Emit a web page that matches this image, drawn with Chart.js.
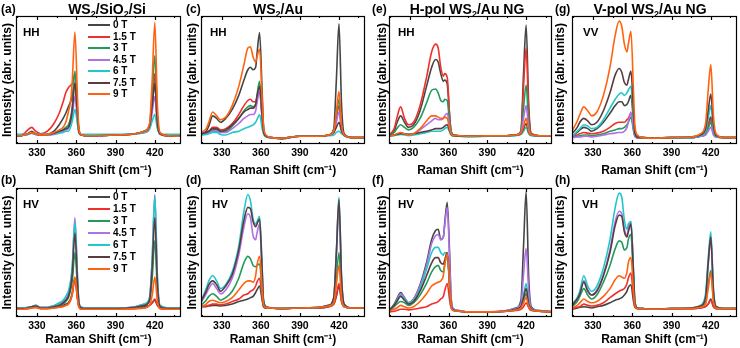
<!DOCTYPE html>
<html>
<head>
<meta charset="utf-8">
<script src="https://cdn.jsdelivr.net/npm/chart.js@4.4.0/dist/chart.umd.min.js"></script>
<style>
  body { margin: 0; background: #fff; }
  #fig { position: relative; width: 740px; height: 348px; overflow: hidden;
         font-family: "Liberation Sans", Arial, sans-serif; font-weight: bold; color: #000; }
  #fig canvas { position: absolute; }
  .lbl { position: absolute; white-space: nowrap; line-height: 1; z-index: 2; }
  .ttl { font-size: 14px; transform: translateX(-50%); }
  .ttl sub { font-size: 9px; vertical-align: -3px; line-height: 0; }
  .pl { font-size: 12px; }
  .pol { font-size: 11.5px; }
  .leg { font-size: 10px; }
  .legline { position: absolute; width: 22px; height: 2px; z-index: 2; }
</style>
</head>
<body>
<div id="fig"></div>
<script>
// x grid (cm^-1) shared by every spectrum
const ramanShift = [314, 318, 320, 323, 326, 329, 333, 338, 343, 347, 350, 352, 354, 356, 357, 359,
                    361, 362, 364, 368, 375, 390, 405, 412, 416, 418, 420, 422, 424, 430, 440];
const xTickLabels = [330, 360, 390, 420];
const xMinorTicks = [315, 345, 375, 405, 435];

const fields = ['0 T', '1.5 T', '3 T', '4.5 T', '6 T', '7.5 T', '9 T'];
const fieldColors = ['#454545', '#f0302a', '#239a5a', '#b070e6', '#22c7c9', '#5c3b40', '#ff6310'];

// (a) WS2/SiO2/Si, HH
const siHH = [
  [0.065,0.065,0.07,0.08,0.10,0.08,0.07,0.075,0.10,0.15,0.20,0.24,0.29,0.34,0.38,0.475, 0.2,0.1,0.07,0.065,0.065,0.07,0.08,0.10,0.14,0.3,0.475,0.15,0.08,0.065,0.06],
  [0.07,0.07,0.08,0.11,0.13,0.10,0.08,0.10,0.16,0.24,0.33,0.40,0.44,0.46,0.47,0.55, 0.25,0.12,0.07,0.065,0.065,0.07,0.08,0.09,0.12,0.3,0.55,0.16,0.08,0.065,0.06],
  [0.065,0.065,0.07,0.075,0.085,0.075,0.07,0.07,0.08,0.09,0.11,0.13,0.15,0.22,0.30,0.57, 0.25,0.1,0.07,0.065,0.065,0.07,0.08,0.1,0.15,0.4,0.69,0.2,0.08,0.065,0.06],
  [0.065,0.065,0.07,0.075,0.085,0.075,0.07,0.07,0.075,0.085,0.1,0.11,0.12,0.17,0.22,0.37, 0.18,0.09,0.07,0.065,0.065,0.07,0.08,0.09,0.13,0.25,0.37,0.14,0.075,0.065,0.06],
  [0.075,0.075,0.075,0.08,0.09,0.08,0.075,0.075,0.08,0.085,0.09,0.1,0.1,0.14,0.18,0.27, 0.15,0.09,0.075,0.075,0.075,0.075,0.08,0.09,0.12,0.18,0.23,0.12,0.08,0.075,0.075],
  [0.065,0.065,0.07,0.08,0.09,0.08,0.07,0.075,0.085,0.1,0.11,0.12,0.13,0.2,0.27,0.475, 0.22,0.1,0.07,0.065,0.065,0.07,0.08,0.1,0.14,0.3,0.475,0.16,0.08,0.065,0.06],
  [0.065,0.065,0.07,0.08,0.09,0.08,0.07,0.075,0.09,0.11,0.13,0.17,0.25,0.36,0.5,0.874, 0.35,0.12,0.07,0.065,0.065,0.07,0.08,0.1,0.16,0.5,0.95,0.3,0.09,0.065,0.06]
];
// (b) WS2/SiO2/Si, HV
const siHV = [
  [0.065,0.065,0.065,0.07,0.075,0.08,0.07,0.07,0.075,0.08,0.09,0.1,0.11,0.15,0.19,0.3, 0.14,0.08,0.065,0.065,0.065,0.065,0.07,0.08,0.09,0.11,0.13,0.09,0.07,0.065,0.065],
  [0.06,0.06,0.06,0.065,0.07,0.075,0.065,0.065,0.07,0.075,0.085,0.09,0.1,0.14,0.18,0.3, 0.14,0.08,0.06,0.06,0.06,0.06,0.065,0.07,0.09,0.11,0.14,0.09,0.065,0.06,0.06],
  [0.065,0.065,0.065,0.07,0.075,0.08,0.07,0.07,0.08,0.09,0.1,0.12,0.15,0.22,0.28,0.5, 0.22,0.1,0.07,0.065,0.065,0.065,0.07,0.09,0.12,0.3,0.59,0.2,0.08,0.065,0.065],
  [0.07,0.07,0.07,0.075,0.08,0.09,0.075,0.075,0.085,0.1,0.12,0.14,0.18,0.28,0.38,0.77, 0.3,0.12,0.075,0.07,0.07,0.07,0.08,0.1,0.15,0.45,0.95,0.3,0.09,0.07,0.07],
  [0.07,0.07,0.07,0.075,0.08,0.09,0.075,0.075,0.09,0.11,0.13,0.16,0.2,0.3,0.4,0.74, 0.3,0.12,0.075,0.07,0.07,0.07,0.08,0.1,0.15,0.45,0.94,0.3,0.09,0.07,0.07],
  [0.065,0.065,0.065,0.07,0.08,0.085,0.07,0.07,0.08,0.09,0.11,0.13,0.16,0.25,0.34,0.65, 0.26,0.11,0.07,0.065,0.065,0.065,0.075,0.09,0.13,0.38,0.77,0.25,0.08,0.065,0.065],
  [0.06,0.06,0.06,0.065,0.07,0.075,0.065,0.065,0.07,0.075,0.08,0.09,0.1,0.14,0.18,0.31, 0.14,0.08,0.06,0.06,0.06,0.06,0.065,0.07,0.09,0.17,0.31,0.12,0.065,0.06,0.06]
];
// (c) WS2/Au, HH
const auHH = [
  [0.08,0.10,0.14,0.22,0.20,0.17,0.20,0.27,0.38,0.50,0.58,0.60,0.58,0.60,0.70,0.87, 0.4,0.15,0.06,0.05,0.04,0.06,0.06,0.07,0.12,0.5,0.94,0.3,0.08,0.05,0.05],
  [0.08,0.09,0.10,0.13,0.13,0.11,0.12,0.16,0.23,0.30,0.34,0.35,0.33,0.33,0.36,0.41, 0.2,0.1,0.06,0.05,0.045,0.06,0.06,0.07,0.1,0.2,0.3,0.12,0.07,0.05,0.05],
  [0.075,0.085,0.09,0.11,0.11,0.10,0.10,0.14,0.20,0.26,0.29,0.30,0.29,0.31,0.38,0.49, 0.22,0.1,0.06,0.05,0.045,0.06,0.06,0.07,0.1,0.22,0.35,0.13,0.07,0.05,0.05],
  [0.075,0.08,0.085,0.10,0.10,0.09,0.09,0.12,0.16,0.20,0.22,0.23,0.23,0.26,0.32,0.41, 0.2,0.1,0.06,0.05,0.045,0.06,0.06,0.07,0.09,0.17,0.25,0.11,0.07,0.05,0.05],
  [0.07,0.075,0.08,0.09,0.09,0.075,0.07,0.09,0.10,0.12,0.13,0.14,0.15,0.17,0.19,0.23, 0.12,0.08,0.06,0.05,0.045,0.06,0.06,0.065,0.07,0.09,0.1,0.08,0.065,0.05,0.05],
  [0.08,0.09,0.10,0.12,0.12,0.10,0.11,0.15,0.20,0.25,0.27,0.28,0.28,0.31,0.37,0.45, 0.22,0.1,0.06,0.05,0.045,0.06,0.06,0.07,0.09,0.13,0.17,0.1,0.07,0.05,0.05],
  [0.09,0.12,0.17,0.25,0.22,0.19,0.21,0.30,0.45,0.62,0.75,0.76,0.68,0.64,0.68,0.74, 0.35,0.14,0.07,0.05,0.045,0.06,0.06,0.07,0.1,0.25,0.41,0.15,0.07,0.05,0.05]
];
// (d) WS2/Au, HV
const auHV = [
  [0.08,0.08,0.085,0.09,0.09,0.085,0.09,0.10,0.12,0.13,0.14,0.15,0.16,0.19,0.21,0.24, 0.13,0.08,0.07,0.07,0.065,0.07,0.07,0.08,0.1,0.16,0.24,0.12,0.08,0.07,0.07],
  [0.08,0.085,0.09,0.10,0.10,0.095,0.10,0.12,0.14,0.17,0.18,0.20,0.21,0.24,0.27,0.30, 0.15,0.09,0.07,0.07,0.065,0.07,0.07,0.08,0.1,0.17,0.26,0.12,0.08,0.07,0.07],
  [0.09,0.13,0.16,0.18,0.16,0.13,0.15,0.20,0.30,0.42,0.47,0.45,0.40,0.39,0.40,0.41, 0.2,0.1,0.075,0.07,0.065,0.07,0.075,0.085,0.12,0.3,0.5,0.18,0.08,0.07,0.07],
  [0.11,0.18,0.22,0.26,0.22,0.18,0.21,0.30,0.48,0.70,0.80,0.77,0.63,0.60,0.65,0.72, 0.32,0.12,0.08,0.07,0.065,0.07,0.075,0.09,0.14,0.48,0.85,0.28,0.09,0.07,0.07],
  [0.12,0.22,0.28,0.32,0.28,0.22,0.25,0.35,0.55,0.82,0.95,0.90,0.76,0.72,0.74,0.78, 0.38,0.14,0.08,0.07,0.065,0.07,0.075,0.09,0.15,0.5,0.93,0.3,0.1,0.07,0.07],
  [0.12,0.20,0.25,0.28,0.25,0.20,0.24,0.33,0.52,0.75,0.85,0.84,0.74,0.70,0.72,0.76, 0.36,0.13,0.08,0.07,0.065,0.07,0.075,0.09,0.15,0.5,0.91,0.3,0.1,0.07,0.07],
  [0.08,0.10,0.12,0.13,0.12,0.11,0.12,0.15,0.21,0.26,0.28,0.28,0.27,0.32,0.40,0.47, 0.22,0.1,0.075,0.07,0.065,0.07,0.075,0.085,0.11,0.25,0.40,0.15,0.08,0.07,0.07]
];
// (e) H-pol WS2/Au NG, HH
const hpolHH = [
  [0.07,0.10,0.16,0.22,0.17,0.13,0.15,0.26,0.45,0.60,0.66,0.64,0.55,0.49,0.50,0.47, 0.2,0.1,0.07,0.065,0.06,0.065,0.065,0.07,0.1,0.55,0.93,0.3,0.08,0.065,0.065],
  [0.07,0.12,0.20,0.29,0.20,0.15,0.17,0.30,0.52,0.72,0.78,0.75,0.60,0.53,0.55,0.52, 0.2,0.1,0.07,0.065,0.06,0.065,0.065,0.07,0.1,0.45,0.75,0.25,0.08,0.065,0.065],
  [0.07,0.09,0.12,0.15,0.13,0.11,0.13,0.20,0.32,0.42,0.43,0.40,0.34,0.33,0.35,0.34, 0.15,0.09,0.07,0.065,0.06,0.065,0.065,0.07,0.09,0.28,0.46,0.16,0.075,0.065,0.065],
  [0.065,0.07,0.075,0.085,0.08,0.075,0.08,0.11,0.15,0.18,0.20,0.19,0.19,0.20,0.22,0.24, 0.12,0.08,0.065,0.065,0.06,0.065,0.065,0.07,0.085,0.2,0.30,0.12,0.07,0.065,0.065],
  [0.06,0.065,0.07,0.075,0.07,0.065,0.07,0.08,0.09,0.10,0.10,0.10,0.10,0.11,0.12,0.13, 0.09,0.07,0.06,0.06,0.055,0.06,0.06,0.065,0.075,0.1,0.13,0.08,0.065,0.06,0.06],
  [0.065,0.07,0.075,0.08,0.08,0.075,0.08,0.09,0.10,0.11,0.12,0.12,0.12,0.13,0.14,0.15, 0.1,0.075,0.065,0.06,0.06,0.065,0.065,0.07,0.08,0.12,0.16,0.09,0.07,0.065,0.065],
  [0.06,0.07,0.08,0.09,0.08,0.07,0.08,0.12,0.18,0.22,0.22,0.21,0.20,0.20,0.21,0.20, 0.11,0.08,0.065,0.065,0.06,0.065,0.065,0.07,0.085,0.14,0.20,0.1,0.07,0.065,0.065]
];
// (f) H-pol WS2/Au NG, HV
const hpolHV = [
  [0.05,0.10,0.14,0.19,0.15,0.11,0.14,0.25,0.42,0.60,0.67,0.68,0.60,0.62,0.72,0.89, 0.45,0.15,0.06,0.05,0.04,0.04,0.05,0.07,0.13,0.55,0.97,0.3,0.08,0.05,0.04],
  [0.04,0.045,0.05,0.06,0.06,0.055,0.06,0.07,0.08,0.10,0.11,0.12,0.14,0.16,0.20,0.26, 0.12,0.07,0.05,0.045,0.04,0.04,0.045,0.05,0.06,0.08,0.11,0.07,0.05,0.045,0.04],
  [0.05,0.08,0.10,0.12,0.11,0.09,0.11,0.17,0.26,0.35,0.39,0.40,0.36,0.35,0.40,0.49, 0.22,0.09,0.05,0.045,0.04,0.04,0.045,0.055,0.08,0.13,0.18,0.09,0.06,0.045,0.04],
  [0.05,0.09,0.13,0.18,0.15,0.11,0.14,0.24,0.40,0.57,0.63,0.64,0.60,0.62,0.70,0.85, 0.4,0.14,0.06,0.05,0.04,0.04,0.05,0.065,0.1,0.33,0.53,0.2,0.07,0.05,0.04],
  [0.05,0.09,0.12,0.17,0.14,0.11,0.13,0.22,0.37,0.50,0.54,0.54,0.50,0.48,0.50,0.49, 0.22,0.09,0.055,0.045,0.04,0.04,0.045,0.06,0.08,0.17,0.26,0.11,0.06,0.045,0.04],
  [0.05,0.09,0.12,0.16,0.13,0.10,0.12,0.20,0.32,0.42,0.46,0.46,0.42,0.41,0.44,0.50, 0.22,0.09,0.055,0.045,0.04,0.04,0.045,0.06,0.08,0.15,0.22,0.1,0.06,0.045,0.04],
  [0.045,0.06,0.07,0.09,0.08,0.07,0.08,0.12,0.18,0.24,0.26,0.27,0.28,0.32,0.40,0.49, 0.22,0.09,0.05,0.045,0.04,0.04,0.045,0.055,0.07,0.11,0.15,0.08,0.055,0.045,0.04]
];
// (g) V-pol WS2/Au NG, VV
const vpolVV = [
  [0.06,0.09,0.11,0.13,0.12,0.10,0.12,0.17,0.24,0.30,0.33,0.33,0.30,0.31,0.33,0.38, 0.17,0.08,0.05,0.05,0.045,0.05,0.05,0.06,0.09,0.15,0.21,0.1,0.06,0.05,0.05],
  [0.05,0.07,0.08,0.09,0.085,0.08,0.085,0.10,0.13,0.16,0.17,0.17,0.17,0.19,0.20,0.24, 0.12,0.07,0.05,0.05,0.045,0.05,0.05,0.06,0.08,0.14,0.19,0.09,0.06,0.05,0.05],
  [0.05,0.06,0.065,0.07,0.07,0.065,0.07,0.08,0.10,0.11,0.12,0.12,0.13,0.15,0.17,0.21, 0.1,0.06,0.05,0.05,0.045,0.05,0.05,0.06,0.075,0.12,0.17,0.08,0.055,0.05,0.05],
  [0.05,0.055,0.055,0.06,0.06,0.055,0.06,0.07,0.08,0.085,0.09,0.09,0.10,0.13,0.17,0.25, 0.12,0.06,0.05,0.05,0.045,0.05,0.05,0.06,0.07,0.1,0.13,0.07,0.055,0.05,0.05],
  [0.06,0.10,0.12,0.15,0.14,0.12,0.13,0.19,0.28,0.35,0.39,0.40,0.38,0.40,0.42,0.45, 0.2,0.08,0.055,0.05,0.045,0.05,0.05,0.065,0.1,0.2,0.30,0.12,0.06,0.05,0.05],
  [0.08,0.13,0.17,0.20,0.18,0.15,0.17,0.26,0.40,0.54,0.59,0.56,0.48,0.46,0.50,0.57, 0.25,0.09,0.055,0.05,0.045,0.05,0.055,0.07,0.12,0.26,0.39,0.15,0.065,0.05,0.05],
  [0.10,0.18,0.23,0.29,0.26,0.22,0.25,0.38,0.60,0.85,0.96,0.92,0.78,0.72,0.78,0.88, 0.4,0.15,0.07,0.05,0.045,0.05,0.055,0.08,0.16,0.42,0.62,0.22,0.08,0.05,0.05]
];
// (h) V-pol WS2/Au NG, VH
const vpolVH = [
  [0.06,0.07,0.075,0.08,0.075,0.07,0.08,0.09,0.11,0.13,0.14,0.15,0.17,0.20,0.23,0.25, 0.12,0.075,0.065,0.065,0.06,0.065,0.065,0.07,0.08,0.1,0.14,0.08,0.065,0.065,0.065],
  [0.065,0.075,0.08,0.10,0.09,0.085,0.09,0.11,0.15,0.18,0.20,0.21,0.22,0.26,0.30,0.34, 0.15,0.08,0.065,0.065,0.06,0.065,0.065,0.07,0.08,0.1,0.13,0.08,0.065,0.065,0.065],
  [0.08,0.12,0.16,0.22,0.17,0.14,0.17,0.27,0.40,0.53,0.59,0.58,0.52,0.54,0.60,0.64, 0.28,0.1,0.07,0.065,0.06,0.065,0.07,0.08,0.11,0.25,0.36,0.14,0.07,0.065,0.065],
  [0.09,0.14,0.19,0.28,0.21,0.17,0.21,0.33,0.52,0.74,0.82,0.80,0.68,0.63,0.68,0.74, 0.33,0.12,0.07,0.065,0.06,0.065,0.07,0.085,0.15,0.4,0.60,0.2,0.08,0.065,0.065],
  [0.10,0.15,0.20,0.32,0.24,0.20,0.24,0.38,0.60,0.85,0.96,0.93,0.75,0.68,0.72,0.74, 0.35,0.13,0.07,0.065,0.06,0.065,0.07,0.09,0.18,0.45,0.66,0.22,0.08,0.065,0.065],
  [0.09,0.14,0.18,0.27,0.20,0.17,0.20,0.32,0.50,0.71,0.79,0.78,0.66,0.62,0.66,0.72, 0.33,0.12,0.07,0.065,0.06,0.065,0.07,0.085,0.15,0.42,0.62,0.2,0.08,0.065,0.065],
  [0.07,0.09,0.11,0.14,0.12,0.11,0.12,0.16,0.22,0.29,0.32,0.31,0.30,0.35,0.42,0.46, 0.2,0.09,0.065,0.065,0.06,0.065,0.065,0.075,0.1,0.22,0.34,0.12,0.07,0.065,0.065]
];

// panel layout: canvas box + axis sizes (px)
const panels = [
  {tag: '(a)', pol: 'HH', data: siHH,   left: 0,   top: 0,   w: 185, h: 180, yW: 16, padR: 4, padT: 16, xH: 36, tpb: 2, polX: 23,  legend: {x: 88, y: 25,  dy: 11.55}},
  {tag: '(b)', pol: 'HV', data: siHV,   left: 0,   top: 174, w: 185, h: 174, yW: 16, padR: 4, padT: 14, xH: 31, tpb: 1, polX: 23,  legend: {x: 88, y: 197, dy: 12.05}},
  {tag: '(c)', pol: 'HH', data: auHH,   left: 185, top: 0,   w: 185, h: 180, yW: 16, padR: 5, padT: 16, xH: 36, tpb: 2, polX: 210},
  {tag: '(d)', pol: 'HV', data: auHV,   left: 185, top: 174, w: 185, h: 174, yW: 16, padR: 5, padT: 14, xH: 31, tpb: 1, polX: 212},
  {tag: '(e)', pol: 'HH', data: hpolHH, left: 375, top: 0,   w: 180, h: 180, yW: 14, padR: 3, padT: 16, xH: 36, tpb: 2, polX: 398},
  {tag: '(f)', pol: 'HV', data: hpolHV, left: 375, top: 174, w: 180, h: 174, yW: 14, padR: 3, padT: 14, xH: 31, tpb: 1, polX: 398},
  {tag: '(g)', pol: 'VV', data: vpolVV, left: 553, top: 0,   w: 187, h: 180, yW: 19, padR: 3, padT: 16, xH: 36, tpb: 2, polX: 583},
  {tag: '(h)', pol: 'VH', data: vpolVH, left: 553, top: 174, w: 187, h: 174, yW: 19, padR: 3, padT: 14, xH: 31, tpb: 1, polX: 582}
];
const tagPos = [[1, 3], [1, 174], [186, 3], [186, 174], [372, 3], [372, 174], [555, 3], [555, 174]];
const columnTitles = [
  {x: 107, html: 'WS<sub>2</sub>/SiO<sub>2</sub>/Si'},
  {x: 278, html: 'WS<sub>2</sub>/Au'},
  {x: 467, html: 'H-pol WS<sub>2</sub>/Au NG'},
  {x: 650, html: 'V-pol WS<sub>2</sub>/Au NG'}
];

const fig = document.getElementById('fig');

function addLabel(cls, x, y, html) {
  const d = document.createElement('div');
  d.className = 'lbl ' + cls;
  d.style.left = x + 'px';
  d.style.top = y + 'px';
  d.innerHTML = html;
  fig.appendChild(d);
  return d;
}

// frame + inward ticks on top and bottom edges
const framePlugin = {
  id: 'frame',
  afterDraw(chart) {
    const {ctx, chartArea: a, scales: {x}} = chart;
    ctx.save();
    ctx.strokeStyle = '#000';
    ctx.lineWidth = 1.2;
    ctx.strokeRect(a.left + 0.5, a.top + 0.5, a.width - 1, a.height - 1);
    ctx.beginPath();
    const tick = (v, len) => {
      const px = Math.round(x.getPixelForValue(v)) + 0.5;
      ctx.moveTo(px, a.bottom); ctx.lineTo(px, a.bottom - len);
      ctx.moveTo(px, a.top); ctx.lineTo(px, a.top + len);
    };
    xTickLabels.forEach(v => tick(v, 4));
    xMinorTicks.forEach(v => tick(v, 2));
    ctx.stroke();
    ctx.restore();
  }
};

panels.forEach((p, k) => {
  const cv = document.createElement('canvas');
  cv.width = p.w; cv.height = p.h;
  cv.style.left = p.left + 'px';
  cv.style.top = p.top + 'px';
  fig.appendChild(cv);

  new Chart(cv.getContext('2d'), {
    type: 'line',
    data: {
      datasets: fields.map((f, i) => ({
        label: f,
        data: ramanShift.map((x, j) => ({x: x, y: p.data[i][j]})),
        borderColor: fieldColors[i],
        borderWidth: 1.6,
        pointRadius: 0,
        fill: false,
        cubicInterpolationMode: 'monotone',
        order: fields.length - 1 - i
      }))
    },
    options: {
      responsive: false,
      animation: false,
      devicePixelRatio: 1,
      layout: {padding: {top: p.padT, right: p.padR, left: 0, bottom: 0}},
      plugins: {legend: {display: false}, tooltip: {enabled: false}},
      scales: {
        x: {
          type: 'linear', min: 314, max: 440,
          afterBuildTicks: s => { s.ticks = xTickLabels.map(v => ({value: v})); },
          afterFit: s => { s.height = p.xH; },
          grid: {display: false, drawTicks: false},
          border: {display: false},
          ticks: {color: '#000', padding: 3, font: {family: 'Liberation Sans', size: 10.5, weight: 'bold'}},
          title: {display: true, text: 'Raman Shift (cm⁻¹)', color: '#000',
                  padding: {top: 0, bottom: p.tpb}, font: {family: 'Liberation Sans', size: 12, weight: 'bold'}}
        },
        y: {
          min: 0, max: 1,
          afterFit: s => { s.width = p.yW; },
          grid: {display: false, drawTicks: false},
          border: {display: false},
          ticks: {display: false},
          title: {display: true, text: 'Intensity (abr. units)', color: '#000',
                  padding: {top: 0, bottom: 0}, font: {family: 'Liberation Sans', size: 12, weight: 'bold'}}
        }
      }
    },
    plugins: [framePlugin]
  });

  addLabel('pl', tagPos[k][0], tagPos[k][1], p.tag);
  addLabel('pol', p.polX, p.top + p.padT + 11, p.pol);

  // legend: sample line at x..x+22, text from x+25
  if (p.legend) {
    fields.forEach((f, i) => {
      const cy = p.legend.y + i * p.legend.dy;
      const ln = document.createElement('div');
      ln.className = 'legline';
      ln.style.left = p.legend.x + 'px';
      ln.style.top = (cy - 1) + 'px';
      ln.style.background = fieldColors[i];
      fig.appendChild(ln);
      addLabel('leg', p.legend.x + 25, cy - 5, f);
    });
  }
});

columnTitles.forEach(t => addLabel('ttl', t.x, 2, t.html));
</script>
</body>
</html>
